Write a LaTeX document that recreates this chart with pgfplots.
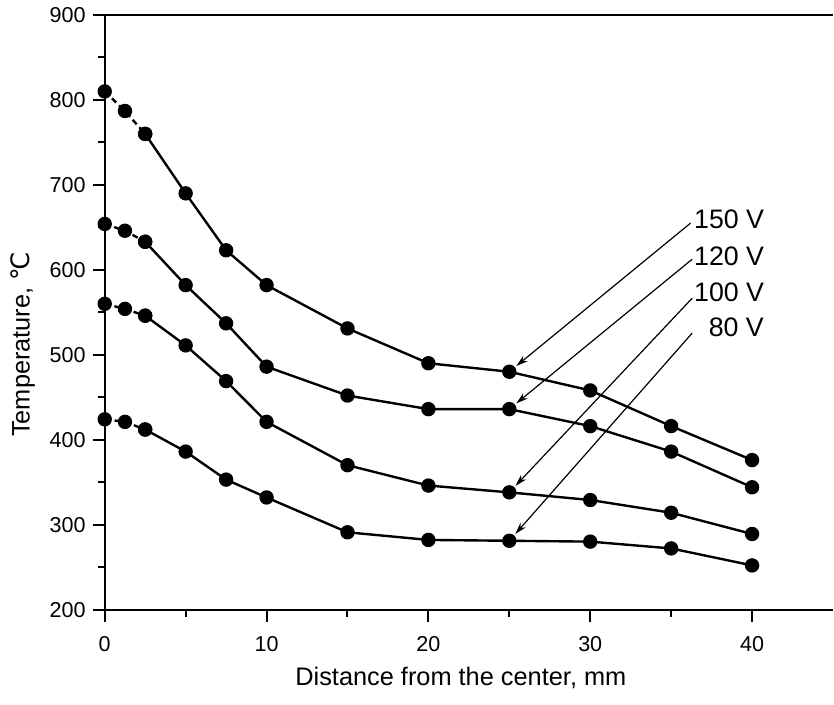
\documentclass[border=0pt]{standalone}
\usepackage{pgfplots}
\pgfplotsset{compat=1.18}
\usepackage{fontspec}
\setmainfont{Liberation Sans}
\newfontfamily\dejavu{DejaVu Sans}
\usetikzlibrary{arrows.meta}

\pgfplotsset{
    dashseg/.style={black, line width=1.2pt, dash pattern=on 3pt off 2pt,
        mark=*, mark size=3pt, mark options={solid}},
    solidseg/.style={black, line width=1.2pt, mark=*, mark size=3pt},
}
\tikzset{
    pointer/.style={line width=0.6pt, -{Stealth[length=6pt,width=3.5pt]}, shorten >=4.5pt},
}

\begin{document}
\begin{tikzpicture}
    \begin{axis}[
        scale only axis,
        width=365pt,
        height=298pt,
        xmin=0, xmax=45,
        ymin=200, ymax=900,
        xtick={0,10,...,40},
        ytick={200,300,...,900},
        minor x tick num=1,
        minor y tick num=1,
        tick align=outside,
        major tick length=6pt,
        minor tick length=3.5pt,
        axis x line*=box,
        axis y line*=left,
        xtick pos=left,
        ytick pos=left,
        axis line style={line width=1pt},
        every tick/.style={line width=1pt, black},
        tick label style={font=\fontsize{10.8}{12}\selectfont},
        xticklabel style={yshift=-4pt},
        /pgf/number format/assume math mode=true,
        label style={font=\fontsize{12.7}{14}\selectfont},
        xlabel={Distance from the center, mm},
        ylabel={Temperature, {\dejavu ℃}},
        xlabel style={at={(axis description cs:0.489,-0.1275)}, anchor=base},
        ylabel style={at={(axis description cs:-0.103,0.446)}, anchor=base},
        clip=false,
    ]
    % 150 V
    \addplot[dashseg] coordinates {(0,810) (1.25,787) (2.5,760)};
    \addplot[solidseg] coordinates {
        (2.5,760) (5,690) (7.5,623) (10,582) (15,531) (20,490)
        (25,480) (30,458) (35,416) (40,376)
    };
    % 120 V
    \addplot[dashseg] coordinates {(0,654) (1.25,646) (2.5,633)};
    \addplot[solidseg] coordinates {
        (2.5,633) (5,582) (7.5,537) (10,486) (15,452) (20,436)
        (25,436) (30,416) (35,386) (40,344)
    };
    % 100 V
    \addplot[dashseg] coordinates {(0,560) (1.25,554) (2.5,546)};
    \addplot[solidseg] coordinates {
        (2.5,546) (5,511) (7.5,469) (10,421) (15,370) (20,346)
        (25,338) (30,329) (35,314) (40,289)
    };
    % 80 V
    \addplot[dashseg] coordinates {(0,424) (1.25,421) (2.5,412)};
    \addplot[solidseg] coordinates {
        (2.5,412) (5,386) (7.5,353) (10,332) (15,291) (20,282)
        (25,281) (30,280) (35,272) (40,252)
    };

    \draw[pointer] (axis cs:36.2,655) -- (axis cs:25,480);
    \draw[pointer] (axis cs:36.3,612.5) -- (axis cs:25,436);
    \draw[pointer] (axis cs:36.3,566.6) -- (axis cs:25,338);
    \draw[pointer] (axis cs:36.3,525.5) -- (axis cs:25,281);

    \begin{scope}[every node/.style={anchor=west, inner sep=0pt,
            font=\fontsize{13.4}{15}\selectfont}]
        \node at (axis cs:36.4,659.5) {150 V};
        \node at (axis cs:36.4,616) {120 V};
        \node at (axis cs:36.4,573.7) {100 V};
        \node at (axis cs:37.3,532.5) {80 V};
    \end{scope}

    \path (axis description cs:-0.1438,-0.159) rectangle (axis description cs:0.9986,1.0252);
    \end{axis}
\end{tikzpicture}
\end{document}
